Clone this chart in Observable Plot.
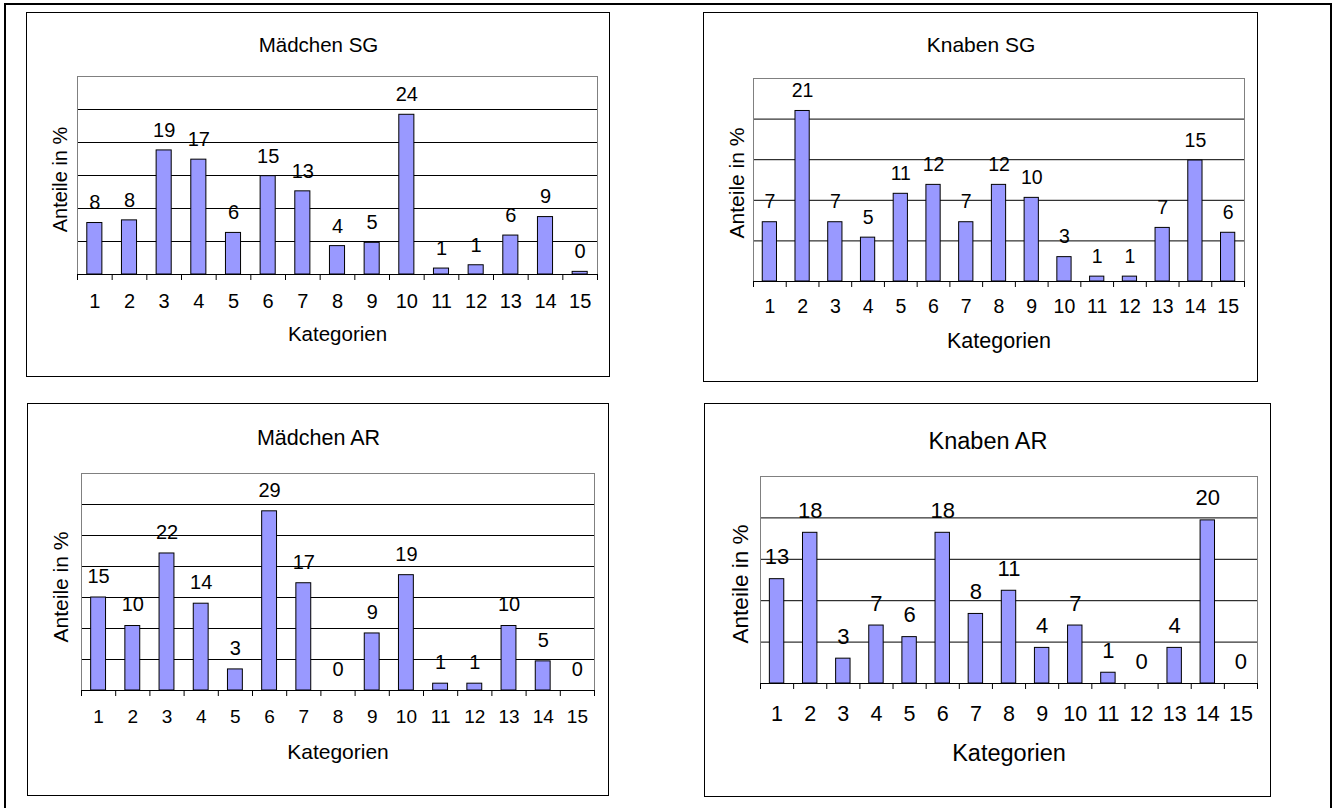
<!DOCTYPE html>
<html>
<head>
<meta charset="utf-8">
<script src="https://cdn.jsdelivr.net/npm/d3@7"></script>
<script src="https://cdn.jsdelivr.net/npm/@observablehq/plot@0.6"></script>
<style>
  body { margin: 0; background: #fff; }
  #page { position: relative; width: 1335px; height: 808px; overflow: hidden; background: #fff;
          font-family: "Liberation Sans", Arial, sans-serif; }
  #frame { position: absolute; left: 4px; top: 3px; width: 1324px; height: 830px;
           border: 2px solid #000; border-bottom: none; }
  .panel { position: absolute; }
  .panel svg { display: block; outline: 1.5px solid #000; outline-offset: -1px; }
</style>
</head>
<body>
<div id="page"><div id="frame"></div></div>
<script>
// ---- data ----
const categories = [1, 2, 3, 4, 5, 6, 7, 8, 9, 10, 11, 12, 13, 14, 15];
const titles = ["Mädchen SG", "Knaben SG", "Mädchen AR", "Knaben AR"];
const xLabel = "Kategorien";
const yLabel = "Anteile in %";
const maedchenSG = [7.8, 8.2, 18.8, 17.4, 6.3, 14.9, 12.6, 4.3, 4.8, 24.2, 0.9, 1.4, 5.9, 8.7, 0.4];
const knabenSG   = [7.3, 21.0, 7.3, 5.4, 10.8, 11.9, 7.3, 11.9, 10.3, 3.0, 0.6, 0.6, 6.6, 14.9, 6.0];
const maedchenAR = [15.0, 10.4, 22.1, 14.0, 3.4, 28.9, 17.3, 0, 9.2, 18.6, 1.1, 1.1, 10.4, 4.7, 0];
const knabenAR   = [12.6, 18.2, 3.0, 7.0, 5.6, 18.2, 8.4, 11.2, 4.3, 7.0, 1.3, 0, 4.3, 19.7, 0];
const yMax = [30, 25, 35, 25];
const gridStep = 5;

// ---- layout (pixels) ----
const layout = [
  {x0: 26,  y0: 12,  x1: 610,  y1: 377, l: 77,  r: 597,  t: 76,  b: 274,
   fsTitle: 20.5, fsAxis: 20.5, fsY: 20, fsTick: 20, fsVal: 20, valOff: 20,
   titleDx: -19, titleDy: -39, yDx: -17, yDy: 4, tickDy: 33, katDy: 66},
  {x0: 703, y0: 12,  x1: 1258, y1: 382, l: 753, r: 1244, t: 78,  b: 281,
   fsTitle: 21, fsAxis: 21.5, fsY: 21, fsTick: 19.5, fsVal: 19.5, valOff: 20,
   titleDx: -18, titleDy: -41, yDx: -16, yDy: 3, tickDy: 31.5, katDy: 66.5},
  {x0: 27,  y0: 403, x1: 609,  y1: 796, l: 81,  r: 594,  t: 473, b: 690,
   fsTitle: 21.5, fsAxis: 21, fsY: 21, fsTick: 19, fsVal: 20, valOff: 21,
   titleDx: -19.5, titleDy: -44, yDx: -20, yDy: 5, tickDy: 32, katDy: 68},
  {x0: 704, y0: 403, x1: 1271, y1: 797, l: 760, r: 1257, t: 476, b: 683,
   fsTitle: 23.5, fsAxis: 23.5, fsY: 22.5, fsTick: 21.5, fsVal: 22, valOff: 22,
   titleDx: -21, titleDy: -44, yDx: -20, yDy: 4, tickDy: 37, katDy: 77}
];
const barHalf = 0.2175;

const series = [maedchenSG, knabenSG, maedchenAR, knabenAR];
const page = document.getElementById("page");

series.forEach((values, i) => {
  const L = layout[i];
  const data = categories.map((c, k) => ({cat: c, value: values[k]}));
  const grid = d3.range(gridStep, yMax[i], gridStep);
  const boundaries = categories.map(c => c - 0.5).concat([categories[categories.length - 1] + 0.5]);

  const chart = Plot.plot({
    width: L.x1 - L.x0,
    height: L.y1 - L.y0,
    marginLeft: L.l - L.x0,
    marginRight: L.x1 - L.r,
    marginTop: L.t - L.y0,
    marginBottom: L.y1 - L.b,
    style: {fontFamily: '"Liberation Sans", Arial, sans-serif', background: "#fff", color: "#000", overflow: "visible"},
    x: {type: "linear", domain: [0.5, categories.length + 0.5]},
    y: {domain: [0, yMax[i]], axis: null},
    marks: [
      Plot.ruleY(grid, {stroke: "#000", strokeWidth: 1}),
      Plot.frame({stroke: "#808080", strokeWidth: 1}),
      Plot.rect(data.filter(d => d.value > 0), {
        x1: d => d.cat - barHalf, x2: d => d.cat + barHalf,
        y1: 0, y2: "value",
        fill: "#9999ff", stroke: "#000", strokeWidth: 1
      }),
      Plot.ruleY([0], {stroke: "#000", strokeWidth: 1}),
      Plot.axisX({ticks: boundaries, tickSize: 6, tickFormat: () => "", label: null, stroke: "#000"}),
      Plot.text(data, {
        x: "cat", y: "value", text: d => String(Math.round(d.value)),
        dy: -L.valOff, fontSize: L.fsVal, fill: "#000"
      }),
      Plot.text(categories, {
        x: d => d, frameAnchor: "bottom", dy: L.tickDy, text: d => String(d),
        fontSize: L.fsTick, fill: "#000"
      }),
      Plot.text([xLabel], {frameAnchor: "bottom", dy: L.katDy, text: d => d, fontSize: L.fsAxis, fill: "#000"}),
      Plot.text([yLabel], {frameAnchor: "left", textAnchor: "middle", rotate: -90, dx: L.yDx, dy: L.yDy,
        text: d => d, fontSize: L.fsY, fill: "#000"}),
      Plot.text([titles[i]], {frameAnchor: "top", dx: L.titleDx, dy: L.titleDy, text: d => d, fontSize: L.fsTitle, fill: "#000"})
    ]
  });

  const div = document.createElement("div");
  div.className = "panel";
  div.style.left = L.x0 + "px";
  div.style.top = L.y0 + "px";
  div.appendChild(chart);
  page.appendChild(div);
});
</script>
</body>
</html>
